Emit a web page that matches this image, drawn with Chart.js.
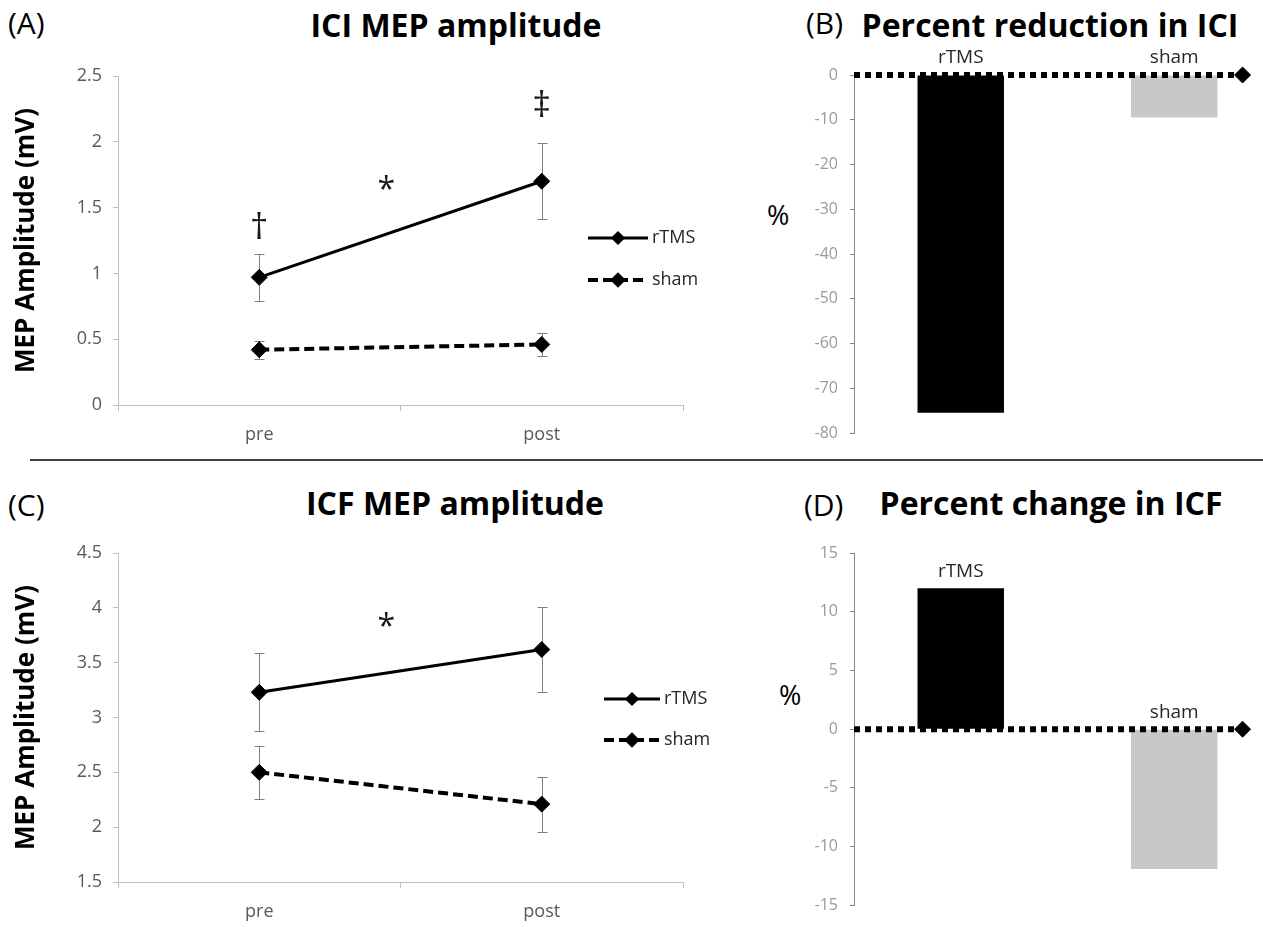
<!DOCTYPE html>
<html>
<head>
<meta charset="utf-8">
<title>ICI / ICF MEP amplitude</title>
<script src="https://cdn.jsdelivr.net/npm/chart.js"></script>
<style>
  html, body { margin: 0; padding: 0; background: #fff; }
  body { width: 1263px; height: 927px; overflow: hidden; position: relative; font-family: 'Open Sans', sans-serif; }
  canvas { position: absolute; }
  .txt { position: absolute; line-height: 1; white-space: nowrap; color: #000; }
  .letter { font-size: 30px; }
  .title { font-size: 32px; font-weight: bold; transform: translateX(-50%); }
  .pct { font-size: 27px; }
  #divider { position: absolute; left: 30px; top: 459px; width: 1233px; height: 2px; background: #404040; }
</style>
</head>
<body>
<div class="txt letter" style="left:8px;top:8px">(A)</div>
<div class="txt title" style="left:456px;top:9px">ICI MEP amplitude</div>
<div class="txt letter" style="left:806px;top:8px">(B)</div>
<div class="txt title" style="left:1050px;top:9px">Percent reduction in ICI</div>
<div class="txt pct" style="left:767px;top:201px">%</div>

<div id="divider"></div>

<div class="txt letter" style="left:8px;top:490px">(C)</div>
<div class="txt title" style="left:455px;top:487px">ICF MEP amplitude</div>
<div class="txt letter" style="left:804px;top:490px">(D)</div>
<div class="txt title" style="left:1051px;top:487px">Percent change in ICF</div>
<div class="txt pct" style="left:779px;top:681px">%</div>

<canvas id="chartA" width="720" height="420" style="left:0;top:40px"></canvas>
<canvas id="chartB" width="560" height="420" style="left:730px;top:40px"></canvas>
<canvas id="chartC" width="720" height="447" style="left:0;top:480px"></canvas>
<canvas id="chartD" width="560" height="447" style="left:730px;top:480px"></canvas>

<script>
// categories
var timePoints = ['pre', 'post'];
var groups = ['rTMS', 'sham'];

// (A) ICI MEP amplitude (mV), mean and error
var iciRtms = [0.97, 1.70];
var iciRtmsErr = [0.18, 0.29];
var iciSham = [0.42, 0.46];
var iciShamErr = [0.07, 0.085];

// (B) percent reduction in ICI
var iciChange = [-75.5, -9.5];

// (C) ICF MEP amplitude (mV), mean and error
var icfRtms = [3.23, 3.62];
var icfRtmsErr = [0.355, 0.39];
var icfSham = [2.50, 2.21];
var icfShamErr = [0.24, 0.25];

// (D) percent change in ICF
var icfChange = [12.0, -11.9];

// zero reference line, from the axis out to its end marker (category units)
var zeroLineX = [-0.5, 1.32];

Chart.defaults.font.family = '"Open Sans", sans-serif';
Chart.defaults.animation = false;

// vertical error bars with caps, drawn under the markers
var errorBars = {
    id: 'errorBars',
    beforeDatasetsDraw: function (chart) {
        var ctx = chart.ctx;
        var yScale = chart.scales.y;
        ctx.save();
        ctx.strokeStyle = '#7f7f7f';
        ctx.lineWidth = 1;
        chart.data.datasets.forEach(function (ds, i) {
            if (!ds.errors) return;
            chart.getDatasetMeta(i).data.forEach(function (pt, j) {
                var x = Math.round(pt.x) + 0.5;
                var top = Math.round(yScale.getPixelForValue(ds.data[j] + ds.errors[j])) + 0.5;
                var bot = Math.round(yScale.getPixelForValue(ds.data[j] - ds.errors[j])) + 0.5;
                ctx.beginPath();
                ctx.moveTo(x, top); ctx.lineTo(x, bot);
                ctx.moveTo(x - 5, top); ctx.lineTo(x + 5, top);
                ctx.moveTo(x - 5, bot); ctx.lineTo(x + 5, bot);
                ctx.stroke();
            });
        });
        ctx.restore();
    }
};

// significance marks (*, dagger, double dagger) placed in data units
var marks = {
    id: 'marks',
    afterDatasetsDraw: function (chart, args, opts) {
        if (!opts.items) return;
        var ctx = chart.ctx;
        var xs = chart.scales.x, ys = chart.scales.y;
        var x0 = xs.getPixelForValue(0), x1 = xs.getPixelForValue(1);
        ctx.save();
        ctx.fillStyle = '#1a1a1a';
        ctx.textAlign = 'center';
        ctx.textBaseline = 'middle';
        opts.items.forEach(function (m) {
            ctx.font = m.size + 'px "Open Sans"';
            ctx.fillText(m.text, x0 + (x1 - x0) * m.x, ys.getPixelForValue(m.y));
        });
        ctx.restore();
    }
};

// legend with line sample + diamond marker, inside the plot on the right
var lineLegend = {
    id: 'lineLegend',
    afterDraw: function (chart, args, opts) {
        var ctx = chart.ctx, area = chart.chartArea;
        ctx.save();
        chart.data.datasets.forEach(function (ds, i) {
            var y = area.top + opts.top + i * opts.gap;
            var x = area.right + opts.left;
            ctx.strokeStyle = '#000';
            ctx.fillStyle = '#000';
            ctx.lineWidth = ds.borderWidth;
            ctx.setLineDash(ds.borderDash || []);
            ctx.beginPath();
            ctx.moveTo(x, y);
            ctx.lineTo(x + opts.length, y);
            ctx.stroke();
            ctx.setLineDash([]);
            Chart.helpers.drawPoint(ctx, {pointStyle: 'rectRot', radius: 5, rotation: 0, borderWidth: 1}, x + opts.length / 2, y);
            ctx.fillStyle = '#262626';
            ctx.font = '18px "Open Sans"';
            ctx.textAlign = 'left';
            ctx.textBaseline = 'middle';
            ctx.fillText(ds.label, x + opts.length + 4, y);
        });
        ctx.restore();
    }
};

// group names written above each bar (above zero for negative bars)
var barLabels = {
    id: 'barLabels',
    afterDatasetsDraw: function (chart) {
        var ctx = chart.ctx, ys = chart.scales.y;
        var values = chart.data.datasets[0].data;
        ctx.save();
        ctx.fillStyle = '#262626';
        ctx.font = '19px "Open Sans"';
        ctx.textAlign = 'center';
        ctx.textBaseline = 'middle';
        chart.getDatasetMeta(0).data.forEach(function (bar, i) {
            ctx.fillText(chart.data.labels[i], bar.x, ys.getPixelForValue(Math.max(values[i], 0)) - 17);
        });
        ctx.restore();
    }
};

// plain numbers on the value axis (1, 1.5, 2 ... not 1.0, 2.0)
function plainTick(value) {
    return String(Math.round(value * 100) / 100);
}

function lineChart(id, rtms, rtmsErr, sham, shamErr, yMin, yMax, padTop, xHeight, legend, items) {
    return new Chart(document.getElementById(id), {
        type: 'line',
        data: {
            labels: timePoints,
            datasets: [
                {
                    label: groups[0], data: rtms, errors: rtmsErr,
                    borderColor: '#000', backgroundColor: '#000', borderWidth: 3,
                    pointStyle: 'rectRot', pointRadius: 8, pointBorderWidth: 1,
                    pointBackgroundColor: '#000', pointBorderColor: '#000'
                },
                {
                    label: groups[1], data: sham, errors: shamErr,
                    borderColor: '#000', backgroundColor: '#000', borderWidth: 4, borderDash: [10, 5],
                    pointStyle: 'rectRot', pointRadius: 8, pointBorderWidth: 1,
                    pointBackgroundColor: '#000', pointBorderColor: '#000'
                }
            ]
        },
        options: {
            responsive: false,
            layout: {padding: {top: padTop, right: 37, bottom: 0, left: 0}},
            scales: {
                x: {
                    offset: true,
                    grid: {offset: true, drawOnChartArea: false, tickLength: 6, color: '#bfbfbf'},
                    border: {color: '#bfbfbf'},
                    ticks: {color: '#595959', font: {size: 18}, padding: 13},
                    afterFit: function (s) { s.height = xHeight; }
                },
                y: {
                    min: yMin, max: yMax,
                    ticks: {stepSize: 0.5, color: '#595959', font: {size: 18}, padding: 11, callback: plainTick},
                    grid: {drawOnChartArea: false, tickLength: 5, color: '#bfbfbf'},
                    border: {color: '#bfbfbf'},
                    title: {display: true, text: 'MEP Amplitude (mV)', color: '#000',
                        font: {size: 26, weight: 'bold'}, padding: {top: 11, bottom: 0}},
                    afterFit: function (s) { s.width = 118; }
                }
            },
            plugins: {
                legend: {display: false},
                tooltip: {enabled: false},
                lineLegend: legend,
                marks: {items: items}
            }
        },
        plugins: [errorBars, marks, lineLegend]
    });
}

function barChart(id, values, yMin, yMax, step, padTop, padBottom) {
    return new Chart(document.getElementById(id), {
        type: 'bar',
        data: {
            labels: groups,
            datasets: [
                {
                    data: values, order: 1, grouped: false,
                    backgroundColor: ['#000000', '#c8c8c8'],
                    borderWidth: 0, barPercentage: 0.405, categoryPercentage: 1
                },
                {
                    // dotted zero line; not clipped so it stays whole at the top edge of (B)
                    type: 'line', order: 0, xAxisID: 'xl', grouped: false, clip: false,
                    data: zeroLineX.map(function (x) { return {x: x, y: 0}; }),
                    borderColor: '#000', backgroundColor: '#000', borderWidth: 6,
                    borderDash: [6, 5], borderCapStyle: 'butt',
                    pointStyle: 'rectRot', pointRadius: [0, 8], pointBorderWidth: 1,
                    pointBackgroundColor: '#000', pointBorderColor: '#000'
                }
            ]
        },
        options: {
            responsive: false,
            layout: {padding: {top: padTop, right: 7, bottom: padBottom, left: 0}},
            scales: {
                x: {display: false},
                xl: {type: 'linear', axis: 'x', display: false, offset: false, grid: {offset: false}, min: -0.5, max: 1.5},
                y: {
                    min: yMin, max: yMax,
                    ticks: {stepSize: step, color: '#9a9a9a', font: {size: 16}, padding: 12},
                    grid: {drawOnChartArea: false, tickLength: 4, color: '#868686'},
                    border: {color: '#868686'},
                    afterFit: function (s) { s.width = 124; }
                }
            },
            plugins: {
                legend: {display: false},
                tooltip: {enabled: false}
            }
        },
        plugins: [barLabels]
    });
}

lineChart('chartA', iciRtms, iciRtmsErr, iciSham, iciShamErr, 0, 2.5, 36, 55,
    {top: 162, gap: 42, left: -95, length: 60},
    [{text: '*', x: 0.45, y: 1.63, size: 32}, {text: '\u2020', x: 0, y: 1.34, size: 36}, {text: '\u2021', x: 1, y: 2.27, size: 36}]);

barChart('chartB', iciChange, -80, 0, 10, 35, 27);

lineChart('chartC', icfRtms, icfRtmsErr, icfSham, icfShamErr, 1.5, 4.5, 73, 45,
    {top: 146, gap: 41, left: -79, length: 56},
    [{text: '*', x: 0.45, y: 3.82, size: 32}]);

barChart('chartD', icfChange, -15, 15, 5, 73, 14);
</script>
</body>
</html>
